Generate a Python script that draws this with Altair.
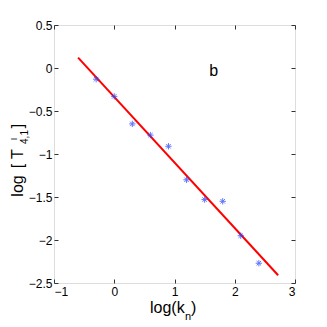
import altair as alt
import pandas as pd

# data
log_k = [-0.3, 0.0, 0.3, 0.6, 0.9, 1.2, 1.5, 1.8, 2.1, 2.4]
log_T = [-0.13, -0.33, -0.65, -0.78, -0.91, -1.30, -1.53, -1.55, -1.95, -2.27]
fit_x = [-0.6, 2.72]
fit_y = [0.12, -2.41]
x_ticks = [-1, 0, 1, 2, 3]
y_ticks = [-2.5, -2, -1.5, -1, -0.5, 0, 0.5]
panel_label = ["b"]
panel_x = [1.65]
panel_y = [-0.09]

FONT = "Liberation Sans"
pts = pd.DataFrame({"x": log_k, "y": log_T})
fit = pd.DataFrame({"x": fit_x, "y": fit_y})
lab = pd.DataFrame({"t": panel_label, "x": panel_x, "y": panel_y})

xs = alt.Scale(domain=[-1, 3], nice=False, zero=False)
ys = alt.Scale(domain=[-2.5, 0.5], nice=False, zero=False)

tick_common = dict(domain=False, tickSize=4, offset=-4, tickColor="#333",
                   grid=False, title=None, labelFont=FONT, labelFontSize=12,
                   labelColor="black", format="~g")

x_bottom = alt.Axis(orient="bottom", values=x_ticks, labelPadding=3, **tick_common)
y_left = alt.Axis(orient="left", values=y_ticks, labelPadding=2, **tick_common)
x_top = alt.Axis(orient="top", values=x_ticks, labels=False, **tick_common)
y_right = alt.Axis(orient="right", values=y_ticks, labels=False, **tick_common)

line = alt.Chart(fit).mark_line(color="red", strokeWidth=2).encode(
    x=alt.X("x:Q", scale=xs, axis=x_bottom),
    y=alt.Y("y:Q", scale=ys, axis=y_left),
)

asterisk = "M-1,0L1,0M0,-1L0,1M-0.7,-0.7L0.7,0.7M-0.7,0.7L0.7,-0.7"
points = alt.Chart(pts).mark_point(shape=asterisk, size=40, color="#2a48ff",
                                   strokeWidth=1, opacity=0.75, filled=False).encode(
    x=alt.X("x:Q", scale=xs, axis=x_top),
    y=alt.Y("y:Q", scale=ys, axis=y_right),
)

btxt = alt.Chart(lab).mark_text(font=FONT, fontSize=16, align="center",
                                baseline="alphabetic", color="black").encode(
    x=alt.X("x:Q", scale=xs, axis=None),
    y=alt.Y("y:Q", scale=ys, axis=None),
    text="t:N")


def piece(s, x, y, size=16, angle=0, align="left"):
    return alt.Chart(pd.DataFrame({"t": [s]})).mark_text(
        font=FONT, fontSize=size, angle=angle, align=align,
        baseline="alphabetic", color="black").encode(
        x=alt.value(x), y=alt.value(y), text="t:N")


titles = [
    piece("log(k", 96, 288),
    piece("n", 131, 295, size=11),
    piece(")", 137, 288),
    piece("log", -31, 161, angle=270, align="center"),
    piece("[", -31, 141, angle=270, align="center"),
    piece("T", -31, 129, angle=270, align="center"),
    piece("I", -37.5, 114, size=9, angle=270, align="center"),
    piece("4,1", -26.5, 112, size=10, angle=270, align="center"),
    piece("]", -31, 101, angle=270, align="center"),
]

chart = alt.layer(line, points, btxt, *titles).resolve_axis(
    x="independent", y="independent"
).properties(
    width=241, height=258,
    padding={"left": 46, "top": 17, "right": 24, "bottom": 44},
    autosize=alt.AutoSizeParams(type="none"),
).configure_view(stroke="black", strokeWidth=1).configure(background="white")

chart.save("out.html", embed_options={"renderer": "svg", "actions": False})
